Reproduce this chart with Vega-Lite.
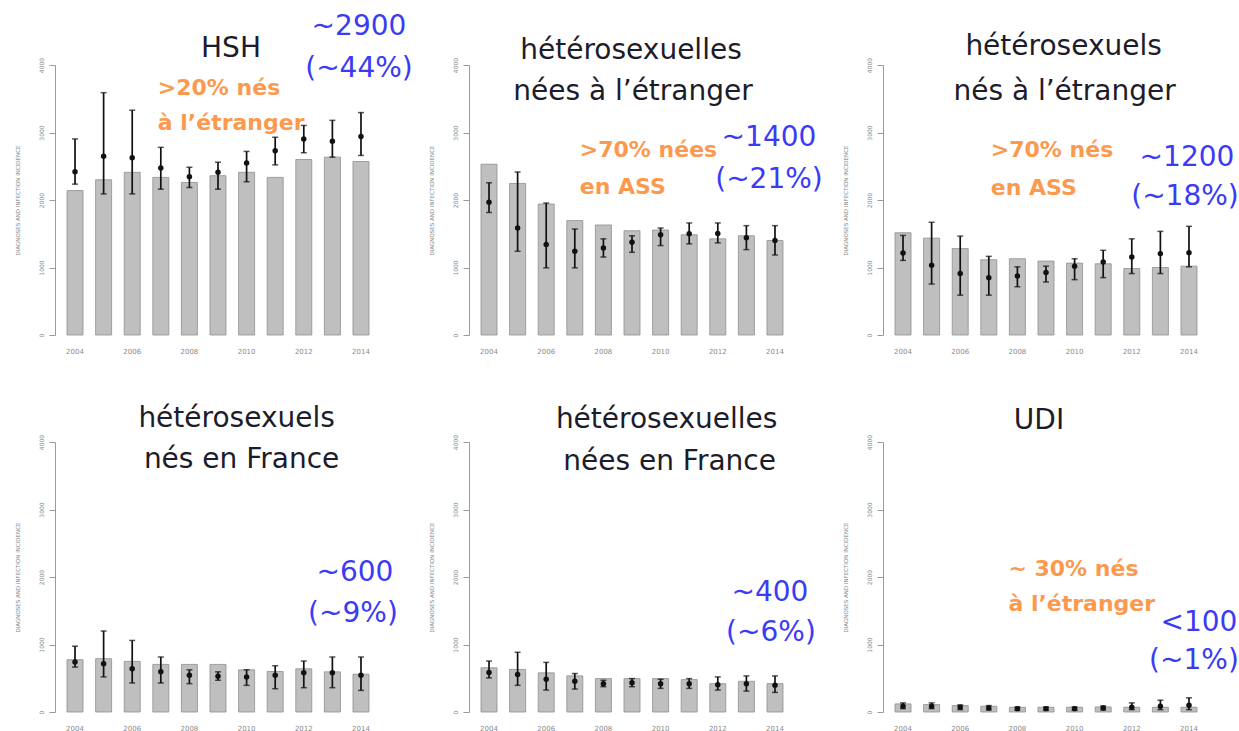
{
  "$schema": "https://vega.github.io/schema/vega-lite/v6.json",
  "background": "white",
  "padding": {"left": 15, "top": 13, "right": 0, "bottom": 0},
  "bounds": "flush",
  "columns": 3,
  "spacing": {"row": 107, "column": 88},
  "data": {
    "values": [
      {"groupe": "HSH", "annee": "2004", "diag": 2140, "est": 2420, "bas": 2235, "haut": 2905},
      {"groupe": "HSH", "annee": "2005", "diag": 2300, "est": 2650, "bas": 2090, "haut": 3590},
      {"groupe": "HSH", "annee": "2006", "diag": 2410, "est": 2625, "bas": 2090, "haut": 3330},
      {"groupe": "HSH", "annee": "2007", "diag": 2335, "est": 2475, "bas": 2160, "haut": 2780},
      {"groupe": "HSH", "annee": "2008", "diag": 2260, "est": 2345, "bas": 2185, "haut": 2485},
      {"groupe": "HSH", "annee": "2009", "diag": 2360, "est": 2410, "bas": 2160, "haut": 2560},
      {"groupe": "HSH", "annee": "2010", "diag": 2410, "est": 2550, "bas": 2270, "haut": 2720},
      {"groupe": "HSH", "annee": "2011", "diag": 2335, "est": 2730, "bas": 2520, "haut": 2930},
      {"groupe": "HSH", "annee": "2012", "diag": 2600, "est": 2905, "bas": 2700, "haut": 3105},
      {"groupe": "HSH", "annee": "2013", "diag": 2635, "est": 2870, "bas": 2635, "haut": 3180},
      {"groupe": "HSH", "annee": "2014", "diag": 2570, "est": 2940, "bas": 2660, "haut": 3295},

      {"groupe": "Femmes hétéro nées à l'étranger", "annee": "2004", "diag": 2530, "est": 1965, "bas": 1815, "haut": 2255},
      {"groupe": "Femmes hétéro nées à l'étranger", "annee": "2005", "diag": 2245, "est": 1585, "bas": 1240, "haut": 2415},
      {"groupe": "Femmes hétéro nées à l'étranger", "annee": "2006", "diag": 1940, "est": 1340, "bas": 995, "haut": 1955},
      {"groupe": "Femmes hétéro nées à l'étranger", "annee": "2007", "diag": 1695, "est": 1240, "bas": 995, "haut": 1570},
      {"groupe": "Femmes hétéro nées à l'étranger", "annee": "2008", "diag": 1630, "est": 1290, "bas": 1155, "haut": 1425},
      {"groupe": "Femmes hétéro nées à l'étranger", "annee": "2009", "diag": 1545, "est": 1375, "bas": 1225, "haut": 1470},
      {"groupe": "Femmes hétéro nées à l'étranger", "annee": "2010", "diag": 1555, "est": 1485, "bas": 1325, "haut": 1585},
      {"groupe": "Femmes hétéro nées à l'étranger", "annee": "2011", "diag": 1485, "est": 1500, "bas": 1350, "haut": 1660},
      {"groupe": "Femmes hétéro nées à l'étranger", "annee": "2012", "diag": 1425, "est": 1505, "bas": 1365, "haut": 1660},
      {"groupe": "Femmes hétéro nées à l'étranger", "annee": "2013", "diag": 1470, "est": 1440, "bas": 1265, "haut": 1620},
      {"groupe": "Femmes hétéro nées à l'étranger", "annee": "2014", "diag": 1400, "est": 1400, "bas": 1185, "haut": 1620},

      {"groupe": "Hommes hétéro nés à l'étranger", "annee": "2004", "diag": 1515, "est": 1215, "bas": 1105, "haut": 1475},
      {"groupe": "Hommes hétéro nés à l'étranger", "annee": "2005", "diag": 1435, "est": 1035, "bas": 755, "haut": 1670},
      {"groupe": "Hommes hétéro nés à l'étranger", "annee": "2006", "diag": 1280, "est": 910, "bas": 590, "haut": 1465},
      {"groupe": "Hommes hétéro nés à l'étranger", "annee": "2007", "diag": 1115, "est": 850, "bas": 590, "haut": 1165},
      {"groupe": "Hommes hétéro nés à l'étranger", "annee": "2008", "diag": 1130, "est": 875, "bas": 715, "haut": 1010},
      {"groupe": "Hommes hétéro nés à l'étranger", "annee": "2009", "diag": 1095, "est": 925, "bas": 785, "haut": 1020},
      {"groupe": "Hommes hétéro nés à l'étranger", "annee": "2010", "diag": 1065, "est": 1020, "bas": 820, "haut": 1130},
      {"groupe": "Hommes hétéro nés à l'étranger", "annee": "2011", "diag": 1055, "est": 1080, "bas": 850, "haut": 1255},
      {"groupe": "Hommes hétéro nés à l'étranger", "annee": "2012", "diag": 985, "est": 1155, "bas": 910, "haut": 1425},
      {"groupe": "Hommes hétéro nés à l'étranger", "annee": "2013", "diag": 1000, "est": 1205, "bas": 910, "haut": 1535},
      {"groupe": "Hommes hétéro nés à l'étranger", "annee": "2014", "diag": 1020, "est": 1220, "bas": 1010, "haut": 1610},

      {"groupe": "Hommes hétéro nés en France", "annee": "2004", "diag": 775, "est": 740, "bas": 665, "haut": 975},
      {"groupe": "Hommes hétéro nés en France", "annee": "2005", "diag": 790, "est": 715, "bas": 520, "haut": 1200},
      {"groupe": "Hommes hétéro nés en France", "annee": "2006", "diag": 750, "est": 640, "bas": 430, "haut": 1060},
      {"groupe": "Hommes hétéro nés en France", "annee": "2007", "diag": 705, "est": 595, "bas": 430, "haut": 815},
      {"groupe": "Hommes hétéro nés en France", "annee": "2008", "diag": 705, "est": 545, "bas": 420, "haut": 625},
      {"groupe": "Hommes hétéro nés en France", "annee": "2009", "diag": 705, "est": 530, "bas": 470, "haut": 595},
      {"groupe": "Hommes hétéro nés en France", "annee": "2010", "diag": 625, "est": 520, "bas": 395, "haut": 625},
      {"groupe": "Hommes hétéro nés en France", "annee": "2011", "diag": 600, "est": 545, "bas": 345, "haut": 685},
      {"groupe": "Hommes hétéro nés en France", "annee": "2012", "diag": 640, "est": 580, "bas": 360, "haut": 755},
      {"groupe": "Hommes hétéro nés en France", "annee": "2013", "diag": 595, "est": 580, "bas": 360, "haut": 815},
      {"groupe": "Hommes hétéro nés en France", "annee": "2014", "diag": 560, "est": 545, "bas": 320, "haut": 815},

      {"groupe": "Femmes hétéro nées en France", "annee": "2004", "diag": 655, "est": 585, "bas": 505, "haut": 755},
      {"groupe": "Femmes hétéro nées en France", "annee": "2005", "diag": 630, "est": 555, "bas": 395, "haut": 885},
      {"groupe": "Femmes hétéro nées en France", "annee": "2006", "diag": 580, "est": 485, "bas": 325, "haut": 735},
      {"groupe": "Femmes hétéro nées en France", "annee": "2007", "diag": 535, "est": 455, "bas": 340, "haut": 570},
      {"groupe": "Femmes hétéro nées en France", "annee": "2008", "diag": 495, "est": 420, "bas": 375, "haut": 470},
      {"groupe": "Femmes hétéro nées en France", "annee": "2009", "diag": 495, "est": 435, "bas": 375, "haut": 495},
      {"groupe": "Femmes hétéro nées en France", "annee": "2010", "diag": 495, "est": 420, "bas": 350, "haut": 485},
      {"groupe": "Femmes hétéro nées en France", "annee": "2011", "diag": 480, "est": 420, "bas": 350, "haut": 495},
      {"groupe": "Femmes hétéro nées en France", "annee": "2012", "diag": 420, "est": 405, "bas": 325, "haut": 520},
      {"groupe": "Femmes hétéro nées en France", "annee": "2013", "diag": 455, "est": 420, "bas": 310, "haut": 535},
      {"groupe": "Femmes hétéro nées en France", "annee": "2014", "diag": 420, "est": 395, "bas": 290, "haut": 535},

      {"groupe": "UDI", "annee": "2004", "diag": 120, "est": 85, "bas": 50, "haut": 135},
      {"groupe": "UDI", "annee": "2005", "diag": 110, "est": 85, "bas": 50, "haut": 135},
      {"groupe": "UDI", "annee": "2006", "diag": 95, "est": 70, "bas": 35, "haut": 105},
      {"groupe": "UDI", "annee": "2007", "diag": 85, "est": 60, "bas": 30, "haut": 95},
      {"groupe": "UDI", "annee": "2008", "diag": 70, "est": 50, "bas": 25, "haut": 75},
      {"groupe": "UDI", "annee": "2009", "diag": 70, "est": 50, "bas": 25, "haut": 75},
      {"groupe": "UDI", "annee": "2010", "diag": 70, "est": 50, "bas": 25, "haut": 75},
      {"groupe": "UDI", "annee": "2011", "diag": 75, "est": 60, "bas": 30, "haut": 90},
      {"groupe": "UDI", "annee": "2012", "diag": 70, "est": 70, "bas": 35, "haut": 135},
      {"groupe": "UDI", "annee": "2013", "diag": 70, "est": 85, "bas": 35, "haut": 175},
      {"groupe": "UDI", "annee": "2014", "diag": 70, "est": 100, "bas": 35, "haut": 210}
    ]
  },
  "concat": [
    {
      "width": 326, "height": 270,
      "transform": [{"filter": {"field": "groupe", "equal": "HSH"}}],
      "encoding": {"x": {"field": "annee", "type": "nominal", "scale": {"paddingInner": 0.44, "paddingOuter": 0.42}, "axis": {"values": ["2004", "2006", "2008", "2010", "2012", "2014"]}}},
      "layer": [
        {"mark": {"type": "bar", "fill": "#bfbfbf", "stroke": "#8f8f8f", "strokeWidth": 0.8}, "encoding": {"y": {"field": "diag", "type": "quantitative", "title": "DIAGNOSES AND INFECTION INCIDENCE", "scale": {"domain": [0, 4000], "nice": false}, "axis": {"values": [0, 1000, 2000, 3000, 4000], "format": "d"}}}},
        {"mark": {"type": "rule", "style": "erreur"}, "encoding": {"y": {"field": "bas", "type": "quantitative", "title": "DIAGNOSES AND INFECTION INCIDENCE"}, "y2": {"field": "haut"}}},
        {"mark": {"type": "tick", "style": "borne"}, "encoding": {"y": {"field": "bas", "type": "quantitative", "title": "DIAGNOSES AND INFECTION INCIDENCE"}}},
        {"mark": {"type": "tick", "style": "borne"}, "encoding": {"y": {"field": "haut", "type": "quantitative", "title": "DIAGNOSES AND INFECTION INCIDENCE"}}},
        {"mark": {"type": "point", "style": "estimation"}, "encoding": {"y": {"field": "est", "type": "quantitative", "title": "DIAGNOSES AND INFECTION INCIDENCE"}}},
        {"data": {"values": [{}]}, "mark": {"type": "text", "style": "titre", "dx": 13}, "encoding": {"x": {"datum": "2009"}, "y": {"datum": 4123}, "text": {"value": "HSH"}}},
        {"data": {"values": [{}]}, "mark": {"type": "text", "style": "orange", "dx": -3}, "encoding": {"x": {"datum": "2007"}, "y": {"datum": 3556}, "text": {"value": ">20% nés"}}},
        {"data": {"values": [{}]}, "mark": {"type": "text", "style": "orange", "dx": -3}, "encoding": {"x": {"datum": "2007"}, "y": {"datum": 3037}, "text": {"value": "à l’étranger"}}},
        {"data": {"values": [{}]}, "mark": {"type": "text", "style": "bleu", "dx": -2}, "encoding": {"x": {"datum": "2014"}, "y": {"datum": 4444}, "text": {"value": "~2900"}}},
        {"data": {"values": [{}]}, "mark": {"type": "text", "style": "bleu", "dx": -2}, "encoding": {"x": {"datum": "2014"}, "y": {"datum": 3827}, "text": {"value": "(~44%)"}}}
      ]
    },
    {
      "width": 326, "height": 270,
      "transform": [{"filter": {"field": "groupe", "equal": "Femmes hétéro nées à l'étranger"}}],
      "encoding": {"x": {"field": "annee", "type": "nominal", "scale": {"paddingInner": 0.44, "paddingOuter": 0.42}, "axis": {"values": ["2004", "2006", "2008", "2010", "2012", "2014"]}}},
      "layer": [
        {"mark": {"type": "bar", "fill": "#bfbfbf", "stroke": "#8f8f8f", "strokeWidth": 0.8}, "encoding": {"y": {"field": "diag", "type": "quantitative", "title": "DIAGNOSES AND INFECTION INCIDENCE", "scale": {"domain": [0, 4000], "nice": false}, "axis": {"values": [0, 1000, 2000, 3000, 4000], "format": "d"}}}},
        {"mark": {"type": "rule", "style": "erreur"}, "encoding": {"y": {"field": "bas", "type": "quantitative", "title": "DIAGNOSES AND INFECTION INCIDENCE"}, "y2": {"field": "haut"}}},
        {"mark": {"type": "tick", "style": "borne"}, "encoding": {"y": {"field": "bas", "type": "quantitative", "title": "DIAGNOSES AND INFECTION INCIDENCE"}}},
        {"mark": {"type": "tick", "style": "borne"}, "encoding": {"y": {"field": "haut", "type": "quantitative", "title": "DIAGNOSES AND INFECTION INCIDENCE"}}},
        {"mark": {"type": "point", "style": "estimation"}, "encoding": {"y": {"field": "est", "type": "quantitative", "title": "DIAGNOSES AND INFECTION INCIDENCE"}}},
        {"data": {"values": [{}]}, "mark": {"type": "text", "style": "titre", "dx": -1}, "encoding": {"x": {"datum": "2009"}, "y": {"datum": 4090}, "text": {"value": "hétérosexuelles"}}},
        {"data": {"values": [{}]}, "mark": {"type": "text", "style": "titre", "dx": 1}, "encoding": {"x": {"datum": "2009"}, "y": {"datum": 3481}, "text": {"value": "nées à l’étranger"}}},
        {"data": {"values": [{}]}, "mark": {"type": "text", "style": "orange", "dx": 5}, "encoding": {"x": {"datum": "2007"}, "y": {"datum": 2637}, "text": {"value": ">70% nées"}}},
        {"data": {"values": [{}]}, "mark": {"type": "text", "style": "orange", "dx": 5}, "encoding": {"x": {"datum": "2007"}, "y": {"datum": 2089}, "text": {"value": "en ASS"}}},
        {"data": {"values": [{}]}, "mark": {"type": "text", "style": "bleu", "dx": -6}, "encoding": {"x": {"datum": "2014"}, "y": {"datum": 2800}, "text": {"value": "~1400"}}},
        {"data": {"values": [{}]}, "mark": {"type": "text", "style": "bleu", "dx": -6}, "encoding": {"x": {"datum": "2014"}, "y": {"datum": 2178}, "text": {"value": "(~21%)"}}}
      ]
    },
    {
      "width": 326, "height": 270,
      "transform": [{"filter": {"field": "groupe", "equal": "Hommes hétéro nés à l'étranger"}}],
      "encoding": {"x": {"field": "annee", "type": "nominal", "scale": {"paddingInner": 0.44, "paddingOuter": 0.42}, "axis": {"values": ["2004", "2006", "2008", "2010", "2012", "2014"]}}},
      "layer": [
        {"mark": {"type": "bar", "fill": "#bfbfbf", "stroke": "#8f8f8f", "strokeWidth": 0.8}, "encoding": {"y": {"field": "diag", "type": "quantitative", "title": "DIAGNOSES AND INFECTION INCIDENCE", "scale": {"domain": [0, 4000], "nice": false}, "axis": {"values": [0, 1000, 2000, 3000, 4000], "format": "d"}}}},
        {"mark": {"type": "rule", "style": "erreur"}, "encoding": {"y": {"field": "bas", "type": "quantitative", "title": "DIAGNOSES AND INFECTION INCIDENCE"}, "y2": {"field": "haut"}}},
        {"mark": {"type": "tick", "style": "borne"}, "encoding": {"y": {"field": "bas", "type": "quantitative", "title": "DIAGNOSES AND INFECTION INCIDENCE"}}},
        {"mark": {"type": "tick", "style": "borne"}, "encoding": {"y": {"field": "haut", "type": "quantitative", "title": "DIAGNOSES AND INFECTION INCIDENCE"}}},
        {"mark": {"type": "point", "style": "estimation"}, "encoding": {"y": {"field": "est", "type": "quantitative", "title": "DIAGNOSES AND INFECTION INCIDENCE"}}},
        {"data": {"values": [{}]}, "mark": {"type": "text", "style": "titre", "dx": -11}, "encoding": {"x": {"datum": "2010"}, "y": {"datum": 4148}, "text": {"value": "hétérosexuels"}}},
        {"data": {"values": [{}]}, "mark": {"type": "text", "style": "titre", "dx": -10}, "encoding": {"x": {"datum": "2010"}, "y": {"datum": 3481}, "text": {"value": "nés à l’étranger"}}},
        {"data": {"values": [{}]}, "mark": {"type": "text", "style": "orange", "dx": 2}, "encoding": {"x": {"datum": "2007"}, "y": {"datum": 2633}, "text": {"value": ">70% nés"}}},
        {"data": {"values": [{}]}, "mark": {"type": "text", "style": "orange", "dx": 2}, "encoding": {"x": {"datum": "2007"}, "y": {"datum": 2074}, "text": {"value": "en ASS"}}},
        {"data": {"values": [{}]}, "mark": {"type": "text", "style": "bleu", "dx": -2}, "encoding": {"x": {"datum": "2014"}, "y": {"datum": 2504}, "text": {"value": "~1200"}}},
        {"data": {"values": [{}]}, "mark": {"type": "text", "style": "bleu", "dx": -4}, "encoding": {"x": {"datum": "2014"}, "y": {"datum": 1926}, "text": {"value": "(~18%)"}}}
      ]
    },
    {
      "width": 326, "height": 270,
      "transform": [{"filter": {"field": "groupe", "equal": "Hommes hétéro nés en France"}}],
      "encoding": {"x": {"field": "annee", "type": "nominal", "scale": {"paddingInner": 0.44, "paddingOuter": 0.42}, "axis": {"values": ["2004", "2006", "2008", "2010", "2012", "2014"]}}},
      "layer": [
        {"mark": {"type": "bar", "fill": "#bfbfbf", "stroke": "#8f8f8f", "strokeWidth": 0.8}, "encoding": {"y": {"field": "diag", "type": "quantitative", "title": "DIAGNOSES AND INFECTION INCIDENCE", "scale": {"domain": [0, 4000], "nice": false}, "axis": {"values": [0, 1000, 2000, 3000, 4000], "format": "d"}}}},
        {"mark": {"type": "rule", "style": "erreur"}, "encoding": {"y": {"field": "bas", "type": "quantitative", "title": "DIAGNOSES AND INFECTION INCIDENCE"}, "y2": {"field": "haut"}}},
        {"mark": {"type": "tick", "style": "borne"}, "encoding": {"y": {"field": "bas", "type": "quantitative", "title": "DIAGNOSES AND INFECTION INCIDENCE"}}},
        {"mark": {"type": "tick", "style": "borne"}, "encoding": {"y": {"field": "haut", "type": "quantitative", "title": "DIAGNOSES AND INFECTION INCIDENCE"}}},
        {"mark": {"type": "point", "style": "estimation"}, "encoding": {"y": {"field": "est", "type": "quantitative", "title": "DIAGNOSES AND INFECTION INCIDENCE"}}},
        {"data": {"values": [{}]}, "mark": {"type": "text", "style": "titre", "dx": -10}, "encoding": {"x": {"datum": "2010"}, "y": {"datum": 4228}, "text": {"value": "hétérosexuels"}}},
        {"data": {"values": [{}]}, "mark": {"type": "text", "style": "titre", "dx": -5}, "encoding": {"x": {"datum": "2010"}, "y": {"datum": 3618}, "text": {"value": "nés en France"}}},
        {"data": {"values": [{}]}, "mark": {"type": "text", "style": "bleu", "dx": -6}, "encoding": {"x": {"datum": "2014"}, "y": {"datum": 1948}, "text": {"value": "~600"}}},
        {"data": {"values": [{}]}, "mark": {"type": "text", "style": "bleu", "dx": -8}, "encoding": {"x": {"datum": "2014"}, "y": {"datum": 1328}, "text": {"value": "(~9%)"}}}
      ]
    },
    {
      "width": 326, "height": 270,
      "transform": [{"filter": {"field": "groupe", "equal": "Femmes hétéro nées en France"}}],
      "encoding": {"x": {"field": "annee", "type": "nominal", "scale": {"paddingInner": 0.44, "paddingOuter": 0.42}, "axis": {"values": ["2004", "2006", "2008", "2010", "2012", "2014"]}}},
      "layer": [
        {"mark": {"type": "bar", "fill": "#bfbfbf", "stroke": "#8f8f8f", "strokeWidth": 0.8}, "encoding": {"y": {"field": "diag", "type": "quantitative", "title": "DIAGNOSES AND INFECTION INCIDENCE", "scale": {"domain": [0, 4000], "nice": false}, "axis": {"values": [0, 1000, 2000, 3000, 4000], "format": "d"}}}},
        {"mark": {"type": "rule", "style": "erreur"}, "encoding": {"y": {"field": "bas", "type": "quantitative", "title": "DIAGNOSES AND INFECTION INCIDENCE"}, "y2": {"field": "haut"}}},
        {"mark": {"type": "tick", "style": "borne"}, "encoding": {"y": {"field": "bas", "type": "quantitative", "title": "DIAGNOSES AND INFECTION INCIDENCE"}}},
        {"mark": {"type": "tick", "style": "borne"}, "encoding": {"y": {"field": "haut", "type": "quantitative", "title": "DIAGNOSES AND INFECTION INCIDENCE"}}},
        {"mark": {"type": "point", "style": "estimation"}, "encoding": {"y": {"field": "est", "type": "quantitative", "title": "DIAGNOSES AND INFECTION INCIDENCE"}}},
        {"data": {"values": [{}]}, "mark": {"type": "text", "style": "titre", "dx": 6}, "encoding": {"x": {"datum": "2010"}, "y": {"datum": 4205}, "text": {"value": "hétérosexuelles"}}},
        {"data": {"values": [{}]}, "mark": {"type": "text", "style": "titre", "dx": 9}, "encoding": {"x": {"datum": "2010"}, "y": {"datum": 3582}, "text": {"value": "nées en France"}}},
        {"data": {"values": [{}]}, "mark": {"type": "text", "style": "bleu", "dx": -5}, "encoding": {"x": {"datum": "2014"}, "y": {"datum": 1642}, "text": {"value": "~400"}}},
        {"data": {"values": [{}]}, "mark": {"type": "text", "style": "bleu", "dx": -4}, "encoding": {"x": {"datum": "2014"}, "y": {"datum": 1045}, "text": {"value": "(~6%)"}}}
      ]
    },
    {
      "width": 326, "height": 270,
      "transform": [{"filter": {"field": "groupe", "equal": "UDI"}}],
      "encoding": {"x": {"field": "annee", "type": "nominal", "scale": {"paddingInner": 0.44, "paddingOuter": 0.42}, "axis": {"values": ["2004", "2006", "2008", "2010", "2012", "2014"]}}},
      "layer": [
        {"mark": {"type": "bar", "fill": "#bfbfbf", "stroke": "#8f8f8f", "strokeWidth": 0.8}, "encoding": {"y": {"field": "diag", "type": "quantitative", "title": "DIAGNOSES AND INFECTION INCIDENCE", "scale": {"domain": [0, 4000], "nice": false}, "axis": {"values": [0, 1000, 2000, 3000, 4000], "format": "d"}}}},
        {"mark": {"type": "rule", "style": "erreur"}, "encoding": {"y": {"field": "bas", "type": "quantitative", "title": "DIAGNOSES AND INFECTION INCIDENCE"}, "y2": {"field": "haut"}}},
        {"mark": {"type": "tick", "style": "borne"}, "encoding": {"y": {"field": "bas", "type": "quantitative", "title": "DIAGNOSES AND INFECTION INCIDENCE"}}},
        {"mark": {"type": "tick", "style": "borne"}, "encoding": {"y": {"field": "haut", "type": "quantitative", "title": "DIAGNOSES AND INFECTION INCIDENCE"}}},
        {"mark": {"type": "point", "style": "estimation"}, "encoding": {"y": {"field": "est", "type": "quantitative", "title": "DIAGNOSES AND INFECTION INCIDENCE"}}},
        {"data": {"values": [{}]}, "mark": {"type": "text", "style": "titre", "dx": -7}, "encoding": {"x": {"datum": "2009"}, "y": {"datum": 4189}, "text": {"value": "UDI"}}},
        {"data": {"values": [{}]}, "mark": {"type": "text", "style": "orange", "dx": -9}, "encoding": {"x": {"datum": "2008"}, "y": {"datum": 2012}, "text": {"value": "~ 30% nés"}}},
        {"data": {"values": [{}]}, "mark": {"type": "text", "style": "orange", "dx": -9}, "encoding": {"x": {"datum": "2008"}, "y": {"datum": 1491}, "text": {"value": "à l’étranger"}}},
        {"data": {"values": [{}]}, "mark": {"type": "text", "style": "bleu", "dx": 10}, "encoding": {"x": {"datum": "2014"}, "y": {"datum": 1204}, "text": {"value": "<100"}}},
        {"data": {"values": [{}]}, "mark": {"type": "text", "style": "bleu", "dx": 5}, "encoding": {"x": {"datum": "2014"}, "y": {"datum": 635}, "text": {"value": "(~1%)"}}}
      ]
    }
  ],
  "config": {
    "view": {"stroke": null},
    "font": "DejaVu Sans",
    "style": {
      "erreur": {"color": "#111111", "strokeWidth": 1.7},
      "borne": {"color": "#111111", "thickness": 1.5, "size": 6},
      "estimation": {"color": "#111111", "filled": true, "opacity": 1, "size": 30},
      "titre": {"font": "DejaVu Sans", "fontSize": 28, "color": "#1c1c2a", "align": "center", "baseline": "alphabetic"},
      "orange": {"font": "DejaVu Sans", "fontSize": 22, "fontWeight": "bold", "color": "#fb9a4f", "align": "left", "baseline": "alphabetic"},
      "bleu": {"font": "DejaVu Sans", "fontSize": 28, "color": "#3b3bf5", "align": "center", "baseline": "alphabetic"}
    },
    "axisY": {
      "grid": false,
      "domainColor": "#9a9a9a",
      "tickColor": "#9a9a9a",
      "tickSize": 6,
      "labelFontSize": 6,
      "labelColor": "#8a8a8a",
      "labelAngle": -90,
      "labelAlign": "center",
      "labelBaseline": "bottom",
      "labelPadding": 5,
      "titleFontSize": 5.5,
      "titleFontWeight": "normal",
      "titleColor": "#8a8a8a",
      "titlePadding": 18
    },
    "axisX": {
      "domain": false,
      "ticks": false,
      "labelFontSize": 7,
      "labelColor": "#8a8a8a",
      "labelAngle": 0,
      "labelPadding": 12,
      "title": null
    }
  }
}
